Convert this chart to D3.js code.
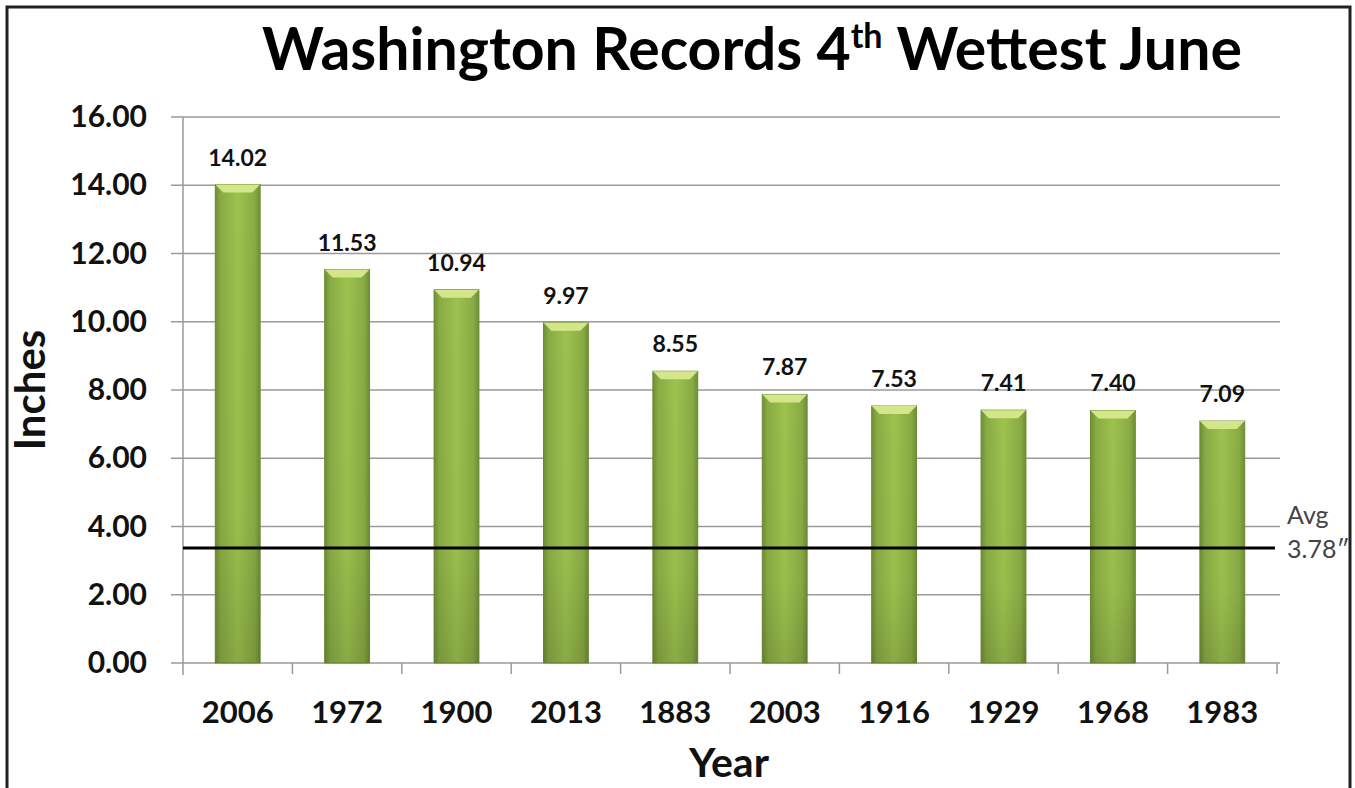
<!DOCTYPE html>
<html>
<head>
<meta charset="utf-8">
<script src="https://cdn.jsdelivr.net/npm/d3@7"></script>
<style>
  body { margin: 0; background: #fff; }
  text { font-family: Lato, "Open Sans", sans-serif; }
</style>
</head>
<body>
<div id="chart"></div>
<script>
// data
const years = ['2006', '1972', '1900', '2013', '1883', '2003', '1916', '1929', '1968', '1983'];
const rainfall = [14.02, 11.53, 10.94, 9.97, 8.55, 7.87, 7.53, 7.41, 7.40, 7.09];
const yTicks = [0, 2, 4, 6, 8, 10, 12, 14, 16];
const avgLabel = ['Avg', '3.78\u2033'];
const avgLineValue = 3.37; // where the line is drawn in the picture

function main() {
    const W = 1355, H = 788;
    const left = 183, right = 1277, top = 117, bottom = 663;

    const svg = d3.select('#chart')
        .append('svg')
        .attr('width', W)
        .attr('height', H);

    const defs = svg.append('defs');
    const grad = defs.append('linearGradient').attr('id', 'barGrad')
        .attr('x1', '0%').attr('x2', '100%').attr('y1', '0%').attr('y2', '0%');
    grad.append('stop').attr('offset', '0%').attr('stop-color', '#6f8e33');
    grad.append('stop').attr('offset', '12%').attr('stop-color', '#89ab44');
    grad.append('stop').attr('offset', '50%').attr('stop-color', '#9cc24e');
    grad.append('stop').attr('offset', '88%').attr('stop-color', '#89ab44');
    grad.append('stop').attr('offset', '100%').attr('stop-color', '#6f8e33');

    const vgrad = defs.append('linearGradient').attr('id', 'shade')
        .attr('x1', '0%').attr('x2', '0%').attr('y1', '0%').attr('y2', '100%');
    vgrad.append('stop').attr('offset', '0%').attr('stop-color', '#000').attr('stop-opacity', 0);
    vgrad.append('stop').attr('offset', '70%').attr('stop-color', '#000').attr('stop-opacity', 0.02);
    vgrad.append('stop').attr('offset', '100%').attr('stop-color', '#000').attr('stop-opacity', 0.12);

    // outer border
    svg.append('rect')
        .attr('x', 7).attr('y', 7)
        .attr('width', 1343).attr('height', H + 20)
        .attr('fill', 'none')
        .attr('stroke', '#222')
        .attr('stroke-width', 3);

    const x = d3.scaleBand().domain(years).range([left, right]).paddingInner(0.59).paddingOuter(0.295);
    const y = d3.scaleLinear().domain([0, 16]).range([bottom, top]);

    // gridlines
    svg.append('g')
        .selectAll('line')
        .data(yTicks)
        .enter()
        .append('line')
        .attr('x1', left - 12)
        .attr('x2', right + 3)
        .attr('y1', d => y(d))
        .attr('y2', d => y(d))
        .attr('stroke', '#9a9a9a')
        .attr('stroke-width', 1.5);

    // y axis line
    svg.append('line')
        .attr('x1', left).attr('x2', left)
        .attr('y1', top).attr('y2', bottom + 12)
        .attr('stroke', '#9a9a9a').attr('stroke-width', 1.5);

    // x ticks at band edges
    const edges = years.map(d => x(d) - x.step() * x.paddingInner() / 2).concat([right]);
    svg.append('g')
        .selectAll('line')
        .data(edges.slice(1))
        .enter()
        .append('line')
        .attr('x1', d => d).attr('x2', d => d)
        .attr('y1', bottom).attr('y2', bottom + 11)
        .attr('stroke', '#9a9a9a').attr('stroke-width', 1.5);

    // y tick labels
    svg.append('g')
        .selectAll('text')
        .data(yTicks)
        .enter()
        .append('text')
        .attr('x', 147)
        .attr('y', d => y(d) + 10)
        .attr('text-anchor', 'end')
        .attr('font-size', 30)
        .attr('font-weight', 'bold')
        .attr('fill', '#111')
        .text(d => d3.format('.2f')(d));

    // bars
    const bars = svg.append('g')
        .selectAll('g')
        .data(years)
        .enter()
        .append('g');

    bars.append('rect')
        .attr('x', d => x(d))
        .attr('y', (d, i) => y(rainfall[i]))
        .attr('width', x.bandwidth())
        .attr('height', (d, i) => bottom - y(rainfall[i]))
        .attr('fill', 'url(#barGrad)')
        .attr('stroke', '#6d8a35')
        .attr('stroke-width', 1);

    bars.append('rect')
        .attr('x', d => x(d))
        .attr('y', (d, i) => y(rainfall[i]))
        .attr('width', x.bandwidth())
        .attr('height', (d, i) => bottom - y(rainfall[i]))
        .attr('fill', 'url(#shade)');

    // top bevel
    bars.append('path')
        .attr('d', (d, i) => {
            const x0 = x(d), x1 = x(d) + x.bandwidth(), t = y(rainfall[i]);
            return `M${x0},${t}L${x1},${t}L${x1 - 8},${t + 8}L${x0 + 8},${t + 8}Z`;
        })
        .attr('fill', '#d3e78a');

    // value labels
    bars.append('text')
        .attr('x', d => x(d) + x.bandwidth() / 2)
        .attr('y', (d, i) => y(rainfall[i]) - 19)
        .attr('text-anchor', 'middle')
        .attr('font-size', 23)
        .attr('font-weight', 'bold')
        .attr('fill', '#111')
        .text((d, i) => d3.format('.2f')(rainfall[i]));

    // x labels
    svg.append('g')
        .selectAll('text')
        .data(years)
        .enter()
        .append('text')
        .attr('x', d => x(d) + x.bandwidth() / 2)
        .attr('y', 723)
        .attr('text-anchor', 'middle')
        .attr('font-size', 31)
        .attr('font-weight', 'bold')
        .attr('fill', '#111')
        .text(d => d);

    // average line
    svg.append('line')
        .attr('x1', left).attr('x2', right - 2)
        .attr('y1', y(avgLineValue)).attr('y2', y(avgLineValue))
        .attr('stroke', '#000').attr('stroke-width', 3);

    svg.append('g')
        .selectAll('text')
        .data(avgLabel)
        .enter()
        .append('text')
        .attr('x', 1287)
        .attr('y', (d, i) => 524 + i * 34)
        .attr('font-size', 25)
        .attr('fill', '#444')
        .text(d => d);

    // axis titles
    svg.append('text')
        .attr('transform', 'translate(45,390) rotate(-90)')
        .attr('text-anchor', 'middle')
        .attr('font-size', 42)
        .attr('font-weight', 'bold')
        .attr('fill', '#111')
        .text('Inches');

    svg.append('text')
        .attr('x', 729)
        .attr('y', 777)
        .attr('text-anchor', 'middle')
        .attr('font-size', 41)
        .attr('font-weight', 'bold')
        .attr('fill', '#111')
        .text('Year');

    // title
    const title = svg.append('text')
        .attr('x', 752)
        .attr('y', 70)
        .attr('text-anchor', 'middle')
        .attr('font-size', 59)
        .attr('font-weight', 'bold')
        .attr('fill', '#000');
    title.append('tspan').text('Washington Records 4');
    title.append('tspan').attr('dy', -22).attr('font-size', 34).text('th');
    title.append('tspan').attr('dy', 22).text('\u00a0Wettest June');
}

main();
</script>
</body>
</html>
